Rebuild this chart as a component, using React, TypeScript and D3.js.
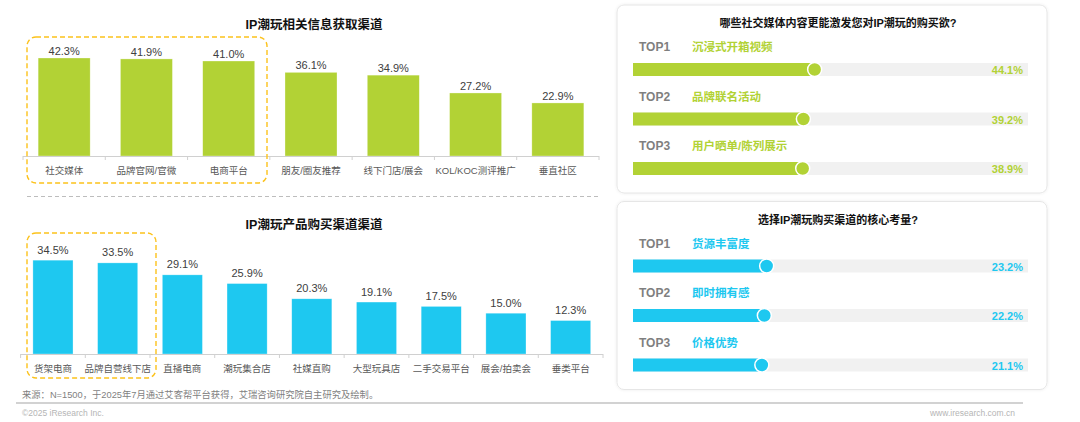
import * as d3 from 'd3';
import React from 'react';

// data
const infoChannels = ['社交媒体', '品牌官网/官微', '电商平台', '朋友/圈友推荐', '线下门店/展会', 'KOL/KOC测评推广', '垂直社区'];
const infoShares = [42.3, 41.9, 41.0, 36.1, 34.9, 27.2, 22.9];
const buyChannels = ['货架电商', '品牌自营线下店', '直播电商', '潮玩集合店', '社媒直购', '大型玩具店', '二手交易平台', '展会/拍卖会', '垂类平台'];
const buyShares = [34.5, 33.5, 29.1, 25.9, 20.3, 19.1, 17.5, 15.0, 12.3];
const rankLabels = ['TOP1', 'TOP2', 'TOP3'];
const contentItems = ['沉浸式开箱视频', '品牌联名活动', '用户晒单/陈列展示'];
const contentShares = [44.1, 39.2, 38.9];
const factorItems = ['货源丰富度', '即时拥有感', '价格优势'];
const factorShares = [23.2, 22.2, 21.1];

const GREEN = '#b2d235';
const BLUE = '#1ec8f0';
const YELLOW = '#fcc21b';
const FONT = '"Liberation Sans", Arial, "Noto Sans CJK SC", sans-serif';

type BarProps = {
    title: string; titleY: number; cats: string[]; values: number[]; color: string;
    left: number; right: number; baseY: number; pxPerUnit: number; pad: number;
    labelGap: number; box: [number, number, number, number];
};

const BarChart = ({ title, titleY, cats, values, color, left, right, baseY, pxPerUnit, pad, labelGap, box }: BarProps) => {
    const x = d3.scaleBand<string>().domain(cats).range([left, right]).paddingInner(pad).paddingOuter(pad / 2);
    const y = d3.scaleLinear().domain([0, 50]).range([baseY, baseY - 50 * pxPerUnit]);
    const step = x.step();
    return (
        <g>
            <text x={314} y={titleY} textAnchor="middle" fontSize={12.5} fontWeight="bold" fill="#111">{title}</text>
            {cats.map((c, i) => (
                <g key={c}>
                    <rect x={x(c)} y={y(values[i])} width={x.bandwidth()} height={baseY - y(values[i])}
                        fill={color} stroke="#fff" strokeOpacity={0.5} strokeWidth={0.6} />
                    <text x={x(c)! + x.bandwidth() / 2} y={y(values[i]) - labelGap} textAnchor="middle"
                        fontSize={11} fill="#404040">{values[i].toFixed(1)}%</text>
                    <text x={x(c)! + x.bandwidth() / 2} y={baseY + 18} textAnchor="middle"
                        fontSize={9.5} fill="#595959">{c}</text>
                </g>
            ))}
            <line x1={left} x2={right} y1={baseY + 0.5} y2={baseY + 0.5} stroke="#d0d0d0" />
            {d3.range(cats.length + 1).map((i) => (
                <line key={i} x1={left + i * step} x2={left + i * step} y1={baseY} y2={baseY + 4} stroke="#d0d0d0" />
            ))}
            <rect x={box[0]} y={box[1]} width={box[2] - box[0]} height={box[3] - box[1]} rx={9}
                fill="none" stroke={YELLOW} strokeWidth={1.4} strokeDasharray="5,3" />
        </g>
    );
};

type RankProps = { top: number; title: string; items: string[]; values: number[]; color: string };

const RankPanel = ({ top, title, items, values, color }: RankProps) => {
    const trackX0 = 633, trackX1 = 1028;
    // the original bars are not proportional to zero, so the scale starts below it
    const w = d3.scaleLinear().domain([-35, 137]).range([0, trackX1 - trackX0]);
    const rowY = (i: number) => top + 46 + i * 49.5;
    return (
        <g>
            <rect x={617} y={top} width={430} height={188} rx={7} fill="#fff" stroke="#e6e6e6" filter="url(#soft)" />
            <text x={838} y={top + 22} textAnchor="middle" fontSize={11} fontWeight="bold" fill="#111">{title}</text>
            {items.map((it, i) => {
                const ly = rowY(i);
                const cy = ly + 18.5;
                const fx = trackX0 + w(values[i]);
                return (
                    <g key={it}>
                        <text x={639} y={ly} fontSize={12} fontWeight="bold" fill="#7f7f7f">{rankLabels[i]}</text>
                        <text x={692} y={ly} fontSize={11.5} fontWeight="bold" fill={color}>{it}</text>
                        <rect x={trackX0} y={cy - 6.5} width={trackX1 - trackX0} height={13} fill="#f1f1f1" />
                        <rect x={trackX0} y={cy - 6.5} width={fx - trackX0} height={13} fill={color} />
                        <circle cx={fx} cy={cy} r={7} fill={color} stroke="#fff" strokeWidth={1.5} />
                        <text x={1023} y={cy + 4.5} textAnchor="end" fontSize={11} fontWeight="bold" fill={color}>
                            {values[i].toFixed(1)}%
                        </text>
                    </g>
                );
            })}
        </g>
    );
};

export default function App() {
    return (
        <div style={{ position: 'absolute', left: 0, top: 0 }}>
            <svg width={1080} height={422} style={{ display: 'block', background: '#fff' }} fontFamily={FONT}>
                <defs>
                    <filter id="soft" x="-5%" y="-5%" width="110%" height="110%">
                        <feDropShadow dx="0" dy="0" stdDeviation="1.5" floodColor="#000" floodOpacity="0.08" />
                    </filter>
                </defs>
                <BarChart title="IP潮玩相关信息获取渠道" titleY={29} cats={infoChannels} values={infoShares} color={GREEN}
                    left={23} right={599} baseY={156} pxPerUnit={2.317} pad={0.368} labelGap={3}
                    box={[27, 37, 267, 183]} />
                <line x1={27} x2={598} y1={196.5} y2={196.5} stroke="#bdbdbd" strokeDasharray="4,3" />
                <BarChart title="IP潮玩产品购买渠道渠道" titleY={229} cats={buyChannels} values={buyShares} color={BLUE}
                    left={20.6} right={603} baseY={354} pxPerUnit={2.72} pad={0.38} labelGap={6.5}
                    box={[27, 233, 156, 378]} />
                <RankPanel top={5} title="哪些社交媒体内容更能激发您对IP潮玩的购买欲?" items={contentItems}
                    values={contentShares} color={GREEN} />
                <RankPanel top={201.5} title="选择IP潮玩购买渠道的核心考量?" items={factorItems}
                    values={factorShares} color={BLUE} />
                <text x={22} y={398} fontSize={9.3} fill="#7f7f7f">来源：N=1500，于2025年7月通过艾客帮平台获得，艾瑞咨询研究院自主研究及绘制。</text>
                <line x1={16} x2={1023} y1={403} y2={403} stroke="#a6a6a6" strokeWidth={1.2} />
                <text x={22} y={416} fontSize={8.5} fill="#b5b5b5">©2025 iResearch Inc.</text>
                <text x={1015} y={416} textAnchor="end" fontSize={8.5} fill="#b5b5b5">www.iresearch.com.cn</text>
            </svg>
        </div>
    );
}
